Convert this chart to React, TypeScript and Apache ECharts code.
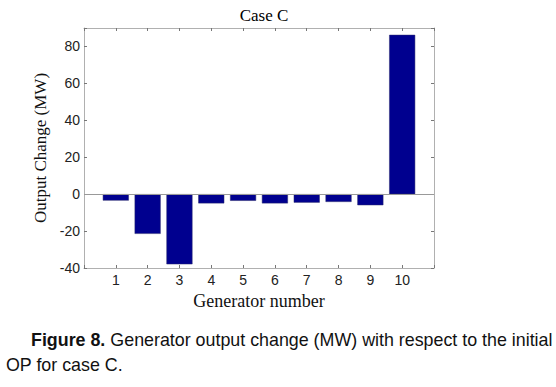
import React, { useEffect, useRef } from "react";
import * as echarts from "echarts";

const generators = [1, 2, 3, 4, 5, 6, 7, 8, 9, 10];
const outputChange = [-3.5, -21.5, -38, -5, -3.6, -5, -4.6, -4.2, -6, 86.3];
const yTicks = [-40, -20, 0, 20, 40, 60, 80];
const titleText = "Case C";
const xName = "Generator number";
const yName = "Output Change (MW)";
const captionBold = "Figure 8.";
const captionLine1 = " Generator output change (MW) with respect to the initial";
const captionLine2 = "OP for case C.";

export default function App() {
  const ref = useRef<HTMLDivElement>(null);
  useEffect(() => {
    if (!ref.current) return;
    const chart = echarts.init(ref.current, undefined, { renderer: "svg" });
    const serif = "'Liberation Serif', 'Times New Roman', serif";
    const sans = "'Liberation Sans', Arial, sans-serif";
    const capFont = "'Liberation Sans', Arial, sans-serif";
    const capSize = 18;
    const gridLeft = 84, gridRight = 434, gridTop = 28, gridBottom = 268;
    const axisGray = "#b0b0b0";

    let scale = 0.88;
    try {
      const cv = document.createElement("canvas");
      const ctx = cv.getContext("2d");
      if (ctx) {
        ctx.font = `bold ${capSize}px ${capFont}`;
        const wb = ctx.measureText(captionBold).width;
        ctx.font = `${capSize}px ${capFont}`;
        const wn = ctx.measureText(captionLine1).width;
        const total = wb + wn;
        if (total > 0) scale = 522 / total;
      }
    } catch (e) {}

    chart.setOption({
      animation: false,
      backgroundColor: "#ffffff",
      grid: { left: gridLeft, right: 556 - gridRight, top: gridTop, bottom: 387 - gridBottom },
      xAxis: [
        {
          type: "value", min: 0, max: 11, interval: 1, position: "bottom",
          axisLine: { show: true, onZero: false, lineStyle: { color: axisGray, width: 1 } },
          axisTick: { show: true, inside: true, length: 3, lineStyle: { color: "#777" } },
          axisLabel: {
            color: "#222", fontFamily: sans, fontSize: 14, margin: 5,
            formatter: (v: number) => (generators.includes(v) ? String(v) : ""),
          },
          splitLine: { show: false },
          name: xName, nameLocation: "middle", nameGap: 22,
          nameTextStyle: { color: "#111", fontFamily: serif, fontSize: 18 },
        },
        {
          type: "value", min: 0, max: 11, interval: 1, position: "top",
          axisLine: { show: true, onZero: false, lineStyle: { color: axisGray, width: 1 } },
          axisTick: { show: true, inside: true, length: 3, lineStyle: { color: "#777" } },
          axisLabel: { show: false },
          splitLine: { show: false },
        },
      ],
      yAxis: [
        {
          type: "value", min: -40, max: 90, interval: 20, position: "left",
          axisLine: { show: true, onZero: false, lineStyle: { color: axisGray, width: 1 } },
          axisTick: { show: true, inside: true, length: 3, lineStyle: { color: "#777" } },
          axisLabel: {
            color: "#222", fontFamily: sans, fontSize: 14, margin: 4,
            formatter: (v: number) => (yTicks.includes(v) ? String(v) : ""),
          },
          splitLine: { show: false },
          name: yName, nameLocation: "middle", nameGap: 30, nameRotate: 90,
          nameTextStyle: { color: "#111", fontFamily: serif, fontSize: 17 },
        },
        {
          type: "value", min: -40, max: 90, interval: 20, position: "right",
          axisLine: { show: true, onZero: false, lineStyle: { color: axisGray, width: 1 } },
          axisTick: { show: true, inside: true, length: 3, lineStyle: { color: "#777" } },
          axisLabel: { show: false },
          splitLine: { show: false },
        },
      ],
      title: {
        text: titleText, left: (gridLeft + gridRight) / 2, top: 2, textAlign: "center",
        textStyle: { fontFamily: serif, fontSize: 17, fontWeight: "normal", color: "#000" },
      },
      series: [
        {
          type: "bar",
          data: generators.map((g, i) => [g, outputChange[i]]),
          barWidth: 26,
          itemStyle: { color: "#00008f", borderColor: "#2a2a6a", borderWidth: 0.5 },
          markLine: {
            silent: true, symbol: "none", label: { show: false },
            lineStyle: { color: "#999", type: "solid", width: 1 },
            data: [{ yAxis: 0 }],
          },
        },
      ],
      graphic: [
        {
          type: "text", x: 31, y: 331, scaleX: scale,
          style: {
            text: `{b|${captionBold}}{n|${captionLine1}}`,
            rich: {
              b: { fontFamily: capFont, fontSize: capSize, fontWeight: "bold", fill: "#111" },
              n: { fontFamily: capFont, fontSize: capSize, fill: "#111" },
            },
          },
        },
        {
          type: "text", x: 6, y: 356, scaleX: scale,
          style: { text: captionLine2, fontFamily: capFont, fontSize: capSize, fill: "#111" },
        },
      ],
    });
    return () => chart.dispose();
  }, []);
  return (
    <div
      ref={ref}
      style={{ position: "absolute", left: 0, top: 0, width: 556, height: 387 }}
    />
  );
}
